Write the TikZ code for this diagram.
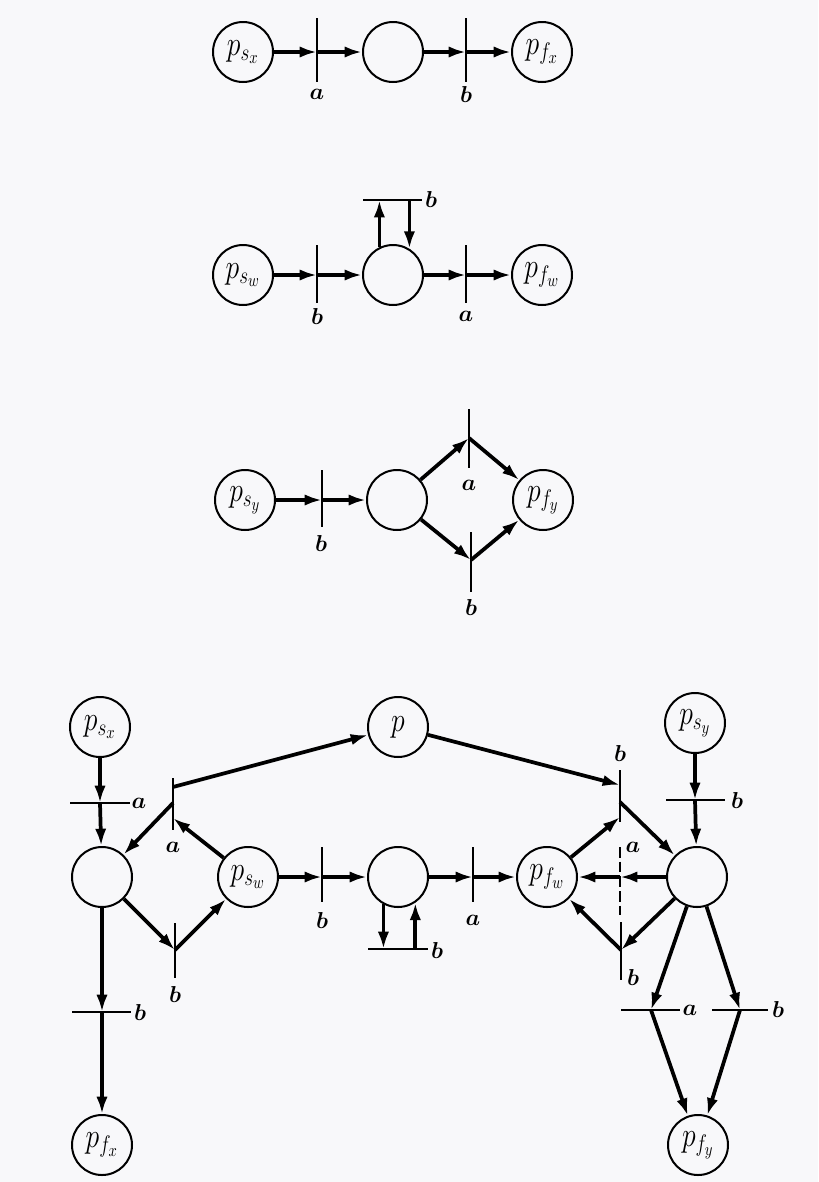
\documentclass[tikz,border=0pt]{standalone}
\usetikzlibrary{arrows.meta}
\definecolor{bg}{RGB}{248,248,250}
\newcommand{\plab}[1]{\scalebox{1}[1.25]{$#1$}}
\begin{document}
\begin{tikzpicture}[x=0.75pt,y=-0.75pt,
  place/.style={circle,draw,line width=1.5pt,minimum size=45pt,inner sep=0pt,
    font=\fontsize{21}{21}\selectfont},
  arc/.style={line width=2.8pt,-{Latex[length=13pt,width=8.5pt]}},
  bar/.style={line width=1.4pt},
  dbar/.style={line width=1.4pt,dash pattern=on 8pt off 3pt},
  lbl/.style={inner sep=0pt,font=\fontsize{16}{16}\selectfont\boldmath}]
\fill[bg] (0,0) rectangle (818,1182);
\useasboundingbox (0,0) rectangle (818,1182);

% ---------------- Row 1 ----------------
\node[place] (psx1) at (243,52) {\plab{p_{s_x}}};
\node[place] (m1) at (393,52) {};
\node[place] (pfx1) at (542,52) {\plab{p_{f_x}}};
\coordinate (ta1) at (317,52);
\coordinate (tb1) at (466,52);
\draw[bar] (ta1) ++(0,-34) -- ++(0,64);
\draw[bar] (tb1) ++(0,-34) -- ++(0,64);
\node[lbl] (la1) at (317,94) {$a$};
\node[lbl] (lb1) at (466,94) {$b$};
\draw[arc] (psx1) -- (ta1);
\draw[arc] (ta1) -- (m1);
\draw[arc] (m1) -- (tb1);
\draw[arc] (tb1) -- (pfx1);

% ---------------- Row 2 ----------------
\node[place] (psw2) at (243,275) {\plab{p_{s_w}}};
\node[place] (m2) at (393,275) {};
\node[place] (pfw2) at (542,275) {\plab{p_{f_w}}};
\coordinate (tb2) at (317,275);
\coordinate (ta2) at (466,275);
\draw[bar] (tb2) ++(0,-30) -- ++(0,58);
\draw[bar] (ta2) ++(0,-30) -- ++(0,58);
\node[lbl] (lb2) at (317,316) {$b$};
\node[lbl] (la2) at (466,316) {$a$};
\coordinate (loop2) at (393,200);
\draw[bar] (363,200) -- (422,200);
\node[lbl] (lloop2) at (431,199) {$b$};
\draw[arc] (psw2) -- (tb2);
\draw[arc] (tb2) -- (m2);
\draw[arc] (m2) -- (ta2);
\draw[arc] (ta2) -- (pfw2);
\draw[arc] (m2.116) -- (m2.116 |- loop2);
\draw[arc] (m2.58 |- loop2) -- (m2.58);

% ---------------- Row 3 ----------------
\node[place] (psy3) at (245,500) {\plab{p_{s_y}}};
\node[place] (m3) at (397,500) {};
\node[place] (pfy3) at (543,500) {\plab{p_{f_y}}};
\coordinate (tb3) at (322,500);
\coordinate (ja3) at (469,438);
\coordinate (jb3) at (471,560);
\draw[bar] (322,470) -- (322,527);
\draw[bar] (469,409) -- (469,468);
\draw[bar] (471,532) -- (471,592);
\node[lbl] (lb3) at (321,543) {$b$};
\node[lbl] (la3) at (469,485) {$a$};
\node[lbl] (lb3b) at (471,607) {$b$};
\draw[arc] (psy3) -- (tb3);
\draw[arc] (tb3) -- (m3);
\draw[arc] (m3) -- (ja3);
\draw[arc] (ja3) -- (pfy3);
\draw[arc] (m3) -- (jb3);
\draw[arc] (jb3) -- (pfy3);

% ---------------- Combined net ----------------
\node[place] (psxB) at (100,727) {\plab{p_{s_x}}};
\node[place] (L) at (102,877) {};
\node[place] (pfxB) at (102,1145) {\plab{p_{f_x}}};
\node[place] (pswB) at (248,877) {\plab{p_{s_w}}};
\node[place] (P) at (398,727) {\plab{p}};
\node[place] (M) at (398,877) {};
\node[place] (pfwB) at (547,877) {\plab{p_{f_w}}};
\node[place] (R) at (697,877) {};
\node[place] (psyB) at (695,723) {\plab{p_{s_y}}};
\node[place] (pfyB) at (698,1145) {\plab{p_{f_y}}};

% left column
\coordinate (tA) at (100,803);
\draw[bar] (70,803) -- (130,803);
\node[lbl] (laA) at (139,803) {$a$};
\draw[arc] (psxB) -- (tA);
\draw[arc] (tA) -- (L);
\coordinate (tBx) at (102,1012);
\draw[bar] (72,1012) -- (131,1012);
\node[lbl] (lbBx) at (140,1012) {$b$};
\draw[arc] (L) -- (tBx);
\draw[arc] (tBx) -- (pfxB);

% upper-left transition a
\coordinate (ulP) at (173,787);
\coordinate (ulL) at (173,803);
\coordinate (ulW) at (173,818);
\draw[bar] (173,778) -- (173,830);
\node[lbl] (laUL) at (173,847) {$a$};
\draw[arc] (ulP) -- (P);
\draw[arc] (ulL) -- (L);
\draw[arc] (pswB) -- (ulW);

% lower-left transition b
\coordinate (ll) at (175,950);
\draw[bar] (175,923) -- (175,978);
\node[lbl] (lbLL) at (175,994) {$b$};
\draw[arc] (L) -- (ll);
\draw[arc] (ll) -- (pswB);

% middle
\coordinate (tMb) at (322,877);
\draw[bar] (322,847) -- (322,902);
\node[lbl] (lbMb) at (322,920) {$b$};
\coordinate (tMa) at (473,877);
\draw[bar] (473,847) -- (473,902);
\node[lbl] (laMa) at (473,920) {$a$};
\draw[arc] (pswB) -- (tMb);
\draw[arc] (tMb) -- (M);
\draw[arc] (M) -- (tMa);
\draw[arc] (tMa) -- (pfwB);
\coordinate (loopM) at (398,949);
\draw[bar] (368,949) -- (428,949);
\node[lbl] (lloopM) at (437,950) {$b$};
\draw[arc] (M.242) -- (M.242 |- loopM);
\draw[arc] (M.304 |- loopM) -- (M.304);

% upper-right transition b
\coordinate (urP) at (620,785);
\coordinate (urR) at (620,802);
\coordinate (urW) at (620,817);
\draw[bar] (620,770) -- (620,822);
\node[lbl] (lbUR) at (620,753) {$b$};
\draw[arc] (P) -- (urP);
\draw[arc] (urR) -- (R);
\draw[arc] (pfwB) -- (urW);

% dashed transition a
\coordinate (dm) at (620,877);
\draw[dbar] (620,847) -- (620,915);
\node[lbl] (laD) at (633,847) {$a$};
\draw[arc] (R) -- (dm);
\draw[arc] (dm) -- (pfwB);

% lower-right transition b
\coordinate (lr) at (621,950);
\draw[bar] (621,922) -- (621,980);
\node[lbl] (lbLR) at (633,977) {$b$};
\draw[arc] (R) -- (lr);
\draw[arc] (lr) -- (pfwB);

% right column
\coordinate (tBy) at (695,800);
\draw[bar] (666,800) -- (725,800);
\node[lbl] (lbBy) at (737,800) {$b$};
\draw[arc] (psyB) -- (tBy);
\draw[arc] (tBy) -- (R);

\coordinate (jya) at (651,1010);
\coordinate (jyb) at (740,1010);
\draw[bar] (621,1010) -- (680,1010);
\draw[bar] (712,1010) -- (768,1010);
\node[lbl] (laY) at (690,1010) {$a$};
\node[lbl] (lbY) at (778,1009) {$b$};
\draw[arc] (R) -- (jya);
\draw[arc] (R) -- (jyb);
\draw[arc] (jya) -- (pfyB);
\draw[arc] (jyb) -- (pfyB);
\end{tikzpicture}
\end{document}
